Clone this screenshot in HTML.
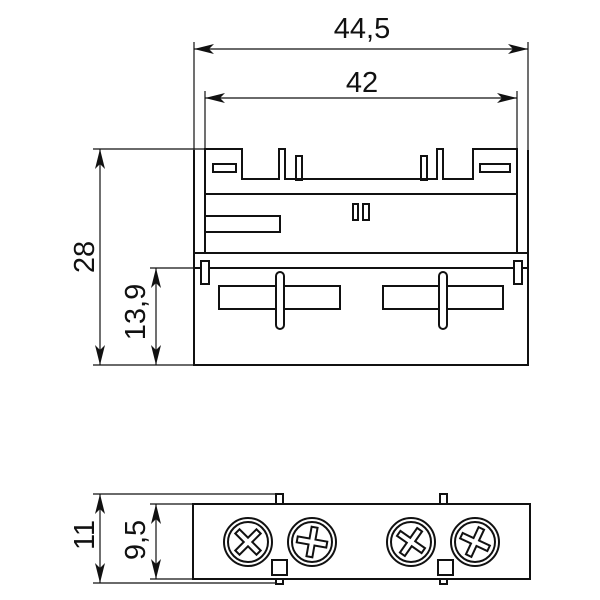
<!DOCTYPE html>
<html><head><style>html,body{margin:0;padding:0;background:#fff}svg{display:block}</style></head>
<body>
<svg width="600" height="600" viewBox="0 0 600 600" xmlns="http://www.w3.org/2000/svg" font-family="Liberation Sans, sans-serif">
<defs>
<marker id="a" viewBox="0 0 20 10" refX="20" refY="5" markerWidth="20" markerHeight="10" markerUnits="userSpaceOnUse" orient="auto-start-reverse"><path d="M0,0 L20,5 L0,10 L5,5 Z" fill="#111"/></marker>
</defs>
<g stroke="#111" fill="none" stroke-width="1.2">
<line x1="194" y1="42" x2="194" y2="150"/>
<line x1="528" y1="42" x2="528" y2="150"/>
<line x1="205" y1="91" x2="205" y2="150"/>
<line x1="517" y1="91" x2="517" y2="150"/>
<line x1="93" y1="149" x2="205" y2="149"/>
<line x1="93" y1="365" x2="194" y2="365"/>
<line x1="150" y1="268" x2="194" y2="268"/>
<line x1="194" y1="49" x2="528" y2="49" marker-start="url(#a)" marker-end="url(#a)"/>
<line x1="205" y1="98" x2="517" y2="98" marker-start="url(#a)" marker-end="url(#a)"/>
<line x1="100" y1="149" x2="100" y2="365" marker-start="url(#a)" marker-end="url(#a)"/>
<line x1="156" y1="268" x2="156" y2="365" marker-start="url(#a)" marker-end="url(#a)"/>
</g>
<g stroke="#111" fill="none" stroke-width="2">
<line x1="194" y1="150" x2="194" y2="253"/>
<line x1="528" y1="150" x2="528" y2="253"/>
<path d="M205,253 L205,149 L242,149 L242,179 L279,179 L279,149 L285,149 L285,179 L437,179 L437,149 L443,149 L443,179 L473,179 L473,149 L517,149 L517,253"/>
<line x1="194" y1="253" x2="205" y2="253"/>
<line x1="517" y1="253" x2="528" y2="253"/>
<line x1="205" y1="194" x2="517" y2="194"/>
<rect x="213" y="164" width="23" height="8"/>
<rect x="480" y="164" width="30" height="8"/>
<rect x="296" y="156" width="6" height="24"/>
<rect x="421" y="156" width="6" height="24"/>
<rect x="353" y="204" width="5" height="16"/>
<rect x="363" y="204" width="6" height="16"/>
<rect x="205" y="216" width="75" height="16"/>
<rect x="194" y="253" width="334" height="112"/>
<line x1="194" y1="268" x2="528" y2="268"/>
<rect x="201" y="261" width="8" height="23" fill="#fff"/>
<rect x="514" y="261" width="8" height="23" fill="#fff"/>
<rect x="219" y="286" width="121" height="23"/>
<rect x="383" y="286" width="120" height="23"/>
<rect x="276" y="272" width="8" height="57" rx="4" fill="#fff"/>
<rect x="439" y="272" width="8" height="57" rx="4" fill="#fff"/>
</g>
<g stroke="#111" fill="none" stroke-width="1.2">
<line x1="93" y1="494" x2="276" y2="494"/>
<line x1="93" y1="583" x2="276" y2="583"/>
<line x1="150" y1="504" x2="194" y2="504"/>
<line x1="150" y1="579" x2="194" y2="579"/>
<line x1="100" y1="494" x2="100" y2="583" marker-start="url(#a)" marker-end="url(#a)"/>
<line x1="156" y1="504" x2="156" y2="579" marker-start="url(#a)" marker-end="url(#a)"/>
</g>
<g stroke="#111" fill="none" stroke-width="2">
<rect x="193" y="504" width="337" height="75"/>
<rect x="276" y="494" width="7" height="10"/>
<rect x="440" y="494" width="7" height="10"/>
<rect x="276" y="579" width="7" height="5"/>
<rect x="440" y="579" width="7" height="5"/>
<rect x="272" y="560" width="15" height="15"/>
<rect x="438" y="560" width="15" height="15"/>
<g transform="translate(248,542)"><circle r="24"/><circle r="20"/><g transform="rotate(45)"><path d="M-3,-15 L3,-15 L3,-3 L15,-3 L15,3 L3,3 L3,15 L-3,15 L-3,3 L-15,3 L-15,-3 L-3,-3 Z"/></g></g>
<g transform="translate(312,542)"><circle r="24"/><circle r="20"/><g transform="rotate(10)"><path d="M-3,-15 L3,-15 L3,-3 L15,-3 L15,3 L3,3 L3,15 L-3,15 L-3,3 L-15,3 L-15,-3 L-3,-3 Z"/></g></g>
<g transform="translate(411,542)"><circle r="24"/><circle r="20"/><g transform="rotate(35)"><path d="M-3,-15 L3,-15 L3,-3 L15,-3 L15,3 L3,3 L3,15 L-3,15 L-3,3 L-15,3 L-15,-3 L-3,-3 Z"/></g></g>
<g transform="translate(475,542)"><circle r="24"/><circle r="20"/><g transform="rotate(25)"><path d="M-3,-15 L3,-15 L3,-3 L15,-3 L15,3 L3,3 L3,15 L-3,15 L-3,3 L-15,3 L-15,-3 L-3,-3 Z"/></g></g>
</g>
<g fill="#111" font-size="29" text-anchor="middle">
<text x="362" y="38">44,5</text>
<text x="362" y="92">42</text>
<text transform="translate(94,257) rotate(-90)">28</text>
<text transform="translate(145,312) rotate(-90)">13,9</text>
<text transform="translate(94,535) rotate(-90)">11</text>
<text transform="translate(145,540) rotate(-90)">9,5</text>
</g>
</svg>
</body></html>
